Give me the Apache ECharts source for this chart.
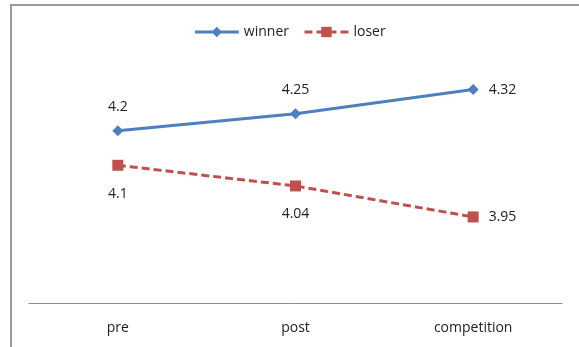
<!DOCTYPE html>
<html>
<head>
<meta charset="utf-8">
<script src="https://cdn.jsdelivr.net/npm/echarts@6/dist/echarts.min.js"></script>
<style>
  html, body { margin: 0; padding: 0; background: #fff; overflow: hidden; }
  #chart { width: 579px; height: 347px; }
</style>
</head>
<body>
<div id="chart"></div>
<script>
// Phases and mean scores per group
const categories = ['pre', 'post', 'competition'];
const winnerValues = [4.2, 4.25, 4.32];
const loserValues = [4.1, 4.04, 3.95];

const blue = '#4f7fbd';
const red = '#c0504d';
const font = '"Open Sans", "Liberation Sans", sans-serif';

const chart = echarts.init(document.getElementById('chart'));
chart.setOption({
  animation: false,
  // chart frame: left and top edges
  graphic: [
    { type: 'line', shape: { x1: 11, y1: 5, x2: 11, y2: 347 }, style: { stroke: '#9a9a9a', lineWidth: 2 } },
    { type: 'line', shape: { x1: 10, y1: 5, x2: 579, y2: 5 }, style: { stroke: '#9a9a9a', lineWidth: 2 } }
  ],
  legend: {
    top: 20,
    left: 'center',
    itemGap: 14,
    itemWidth: 44,
    itemHeight: 13,
    lineStyle: { width: 3 },
    textStyle: { fontFamily: font, fontSize: 14, color: '#222' },
    data: ['winner', 'loser']
  },
  grid: { left: 29, right: 17, top: 62, bottom: 44 },
  xAxis: {
    type: 'category',
    data: categories,
    axisLine: { lineStyle: { color: '#8c8c8c', width: 1 } },
    axisTick: { show: false },
    axisLabel: { fontFamily: font, fontSize: 14, color: '#222', margin: 18 }
  },
  yAxis: {
    type: 'value',
    min: 3.7,
    max: 4.4,
    show: false,
    splitLine: { show: false }
  },
  series: [
    {
      name: 'winner',
      type: 'line',
      data: winnerValues.map((v, i) => ({
        value: v,
        label: i === 2 ? { position: 'right', distance: 10 } : { position: 'top', distance: 11 }
      })),
      symbol: 'diamond',
      symbolSize: 11,
      itemStyle: { color: blue },
      lineStyle: { color: blue, width: 3 },
      label: { show: true, fontFamily: font, fontSize: 14, color: '#222' }
    },
    {
      name: 'loser',
      type: 'line',
      data: loserValues.map((v, i) => ({
        value: v,
        label: i === 2 ? { position: 'right', distance: 10 } : { position: 'bottom', distance: 16 }
      })),
      symbol: 'rect',
      symbolSize: 11,
      itemStyle: { color: red },
      lineStyle: { color: red, width: 3, type: [8, 4] },
      label: { show: true, fontFamily: font, fontSize: 14, color: '#222' }
    }
  ]
});
</script>
</body>
</html>
